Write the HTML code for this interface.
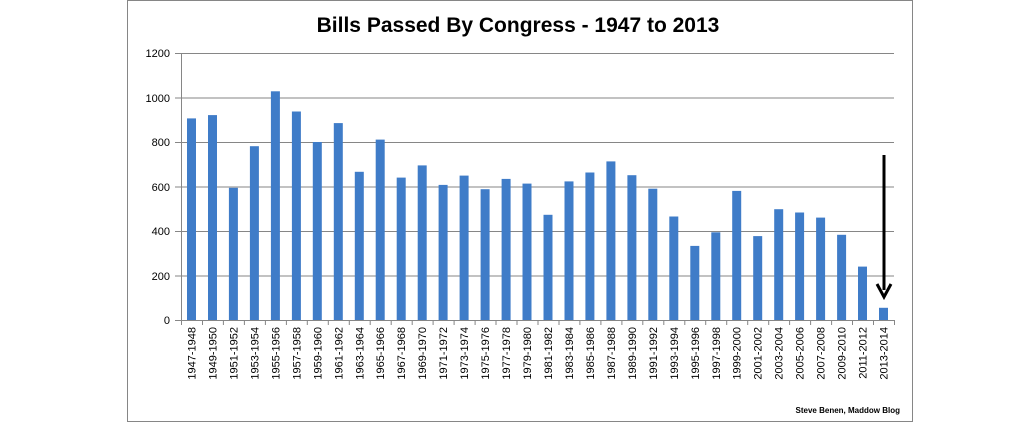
<!DOCTYPE html><html><head><style>body{margin:0;background:#fff}</style></head><body>
<svg width="1033" height="423" xmlns="http://www.w3.org/2000/svg" font-family="Liberation Sans, sans-serif">
<rect x="127.5" y="0.5" width="785" height="421" fill="#fff" stroke="#868686"/>
<text x="518" y="32" text-anchor="middle" font-size="21" font-weight="bold" fill="#000">Bills Passed By Congress - 1947 to 2013</text>
<g stroke="#868686" stroke-width="1">
<line x1="175" y1="53.5" x2="894" y2="53.5"/><line x1="175" y1="98" x2="894" y2="98"/><line x1="175" y1="142.5" x2="894" y2="142.5"/><line x1="175" y1="187" x2="894" y2="187"/><line x1="175" y1="231.5" x2="894" y2="231.5"/><line x1="175" y1="276" x2="894" y2="276"/><line x1="175" y1="320.5" x2="894" y2="320.5"/><line x1="181.5" y1="53" x2="181.5" y2="321"/>
<path d="M181.5 320v5M202.5 320v5M223.4 320v5M244.4 320v5M265.4 320v5M286.4 320v5M307.3 320v5M328.3 320v5M349.3 320v5M370.2 320v5M391.2 320v5M412.2 320v5M433.1 320v5M454.1 320v5M475.1 320v5M496 320v5M517 320v5M538 320v5M559 320v5M579.9 320v5M600.9 320v5M621.9 320v5M642.8 320v5M663.8 320v5M684.8 320v5M705.7 320v5M726.7 320v5M747.7 320v5M768.7 320v5M789.6 320v5M810.6 320v5M831.6 320v5M852.5 320v5M873.5 320v5M894.5 320v5"/>
</g>
<g font-size="11" fill="#000" text-anchor="end">
<text x="170" y="57">1200</text><text x="170" y="102">1000</text><text x="170" y="146">800</text><text x="170" y="191">600</text><text x="170" y="235">400</text><text x="170" y="280">200</text><text x="170" y="324">0</text>
</g>
<g fill="#3f7cc8">
<rect x="187" y="118.4" width="9" height="201.6"/>
<rect x="208" y="115.1" width="9" height="204.9"/>
<rect x="228.9" y="187.8" width="9" height="132.2"/>
<rect x="249.9" y="146.2" width="9" height="173.8"/>
<rect x="270.9" y="91.3" width="9" height="228.7"/>
<rect x="291.9" y="111.5" width="9" height="208.5"/>
<rect x="312.8" y="142" width="9" height="178"/>
<rect x="333.8" y="123.1" width="9" height="196.9"/>
<rect x="354.8" y="171.8" width="9" height="148.2"/>
<rect x="375.7" y="139.6" width="9" height="180.4"/>
<rect x="396.7" y="177.6" width="9" height="142.4"/>
<rect x="417.7" y="165.4" width="9" height="154.6"/>
<rect x="438.6" y="184.9" width="9" height="135.1"/>
<rect x="459.6" y="175.6" width="9" height="144.4"/>
<rect x="480.6" y="189.2" width="9" height="130.8"/>
<rect x="501.6" y="178.9" width="9" height="141.1"/>
<rect x="522.5" y="183.6" width="9" height="136.4"/>
<rect x="543.5" y="214.8" width="9" height="105.2"/>
<rect x="564.5" y="181.4" width="9" height="138.6"/>
<rect x="585.4" y="172.5" width="9" height="147.5"/>
<rect x="606.4" y="161.4" width="9" height="158.6"/>
<rect x="627.4" y="175.2" width="9" height="144.8"/>
<rect x="648.3" y="188.7" width="9" height="131.3"/>
<rect x="669.3" y="216.5" width="9" height="103.5"/>
<rect x="690.3" y="245.9" width="9" height="74.1"/>
<rect x="711.3" y="232.3" width="9" height="87.7"/>
<rect x="732.2" y="190.9" width="9" height="129.1"/>
<rect x="753.2" y="236.1" width="9" height="83.9"/>
<rect x="774.2" y="209.2" width="9" height="110.8"/>
<rect x="795.1" y="212.5" width="9" height="107.5"/>
<rect x="816.1" y="217.6" width="9" height="102.4"/>
<rect x="837.1" y="234.8" width="9" height="85.2"/>
<rect x="858" y="266.6" width="9" height="53.4"/>
<rect x="879" y="307.8" width="9" height="12.2"/>
</g>
<g font-size="11" fill="#000" text-anchor="end">
<text transform="translate(195.5,327) rotate(-90)">1947-1948</text>
<text transform="translate(216.5,327) rotate(-90)">1949-1950</text>
<text transform="translate(237.4,327) rotate(-90)">1951-1952</text>
<text transform="translate(258.4,327) rotate(-90)">1953-1954</text>
<text transform="translate(279.4,327) rotate(-90)">1955-1956</text>
<text transform="translate(300.4,327) rotate(-90)">1957-1958</text>
<text transform="translate(321.3,327) rotate(-90)">1959-1960</text>
<text transform="translate(342.3,327) rotate(-90)">1961-1962</text>
<text transform="translate(363.3,327) rotate(-90)">1963-1964</text>
<text transform="translate(384.2,327) rotate(-90)">1965-1966</text>
<text transform="translate(405.2,327) rotate(-90)">1967-1968</text>
<text transform="translate(426.2,327) rotate(-90)">1969-1970</text>
<text transform="translate(447.1,327) rotate(-90)">1971-1972</text>
<text transform="translate(468.1,327) rotate(-90)">1973-1974</text>
<text transform="translate(489.1,327) rotate(-90)">1975-1976</text>
<text transform="translate(510.1,327) rotate(-90)">1977-1978</text>
<text transform="translate(531,327) rotate(-90)">1979-1980</text>
<text transform="translate(552,327) rotate(-90)">1981-1982</text>
<text transform="translate(573,327) rotate(-90)">1983-1984</text>
<text transform="translate(593.9,327) rotate(-90)">1985-1986</text>
<text transform="translate(614.9,327) rotate(-90)">1987-1988</text>
<text transform="translate(635.9,327) rotate(-90)">1989-1990</text>
<text transform="translate(656.8,327) rotate(-90)">1991-1992</text>
<text transform="translate(677.8,327) rotate(-90)">1993-1994</text>
<text transform="translate(698.8,327) rotate(-90)">1995-1996</text>
<text transform="translate(719.8,327) rotate(-90)">1997-1998</text>
<text transform="translate(740.7,327) rotate(-90)">1999-2000</text>
<text transform="translate(761.7,327) rotate(-90)">2001-2002</text>
<text transform="translate(782.7,327) rotate(-90)">2003-2004</text>
<text transform="translate(803.6,327) rotate(-90)">2005-2006</text>
<text transform="translate(824.6,327) rotate(-90)">2007-2008</text>
<text transform="translate(845.6,327) rotate(-90)">2009-2010</text>
<text transform="translate(866.5,327) rotate(-90)">2011-2012</text>
<text transform="translate(887.5,327) rotate(-90)">2013-2014</text>
</g>
<line x1="884" y1="155" x2="884" y2="290" stroke="#000" stroke-width="3"/>
<polyline points="877,284 884,297 891,284" fill="none" stroke="#000" stroke-width="3"/>
<text x="900" y="413" text-anchor="end" font-size="8" font-weight="bold" fill="#000">Steve Benen, Maddow Blog</text>
</svg></body></html>
